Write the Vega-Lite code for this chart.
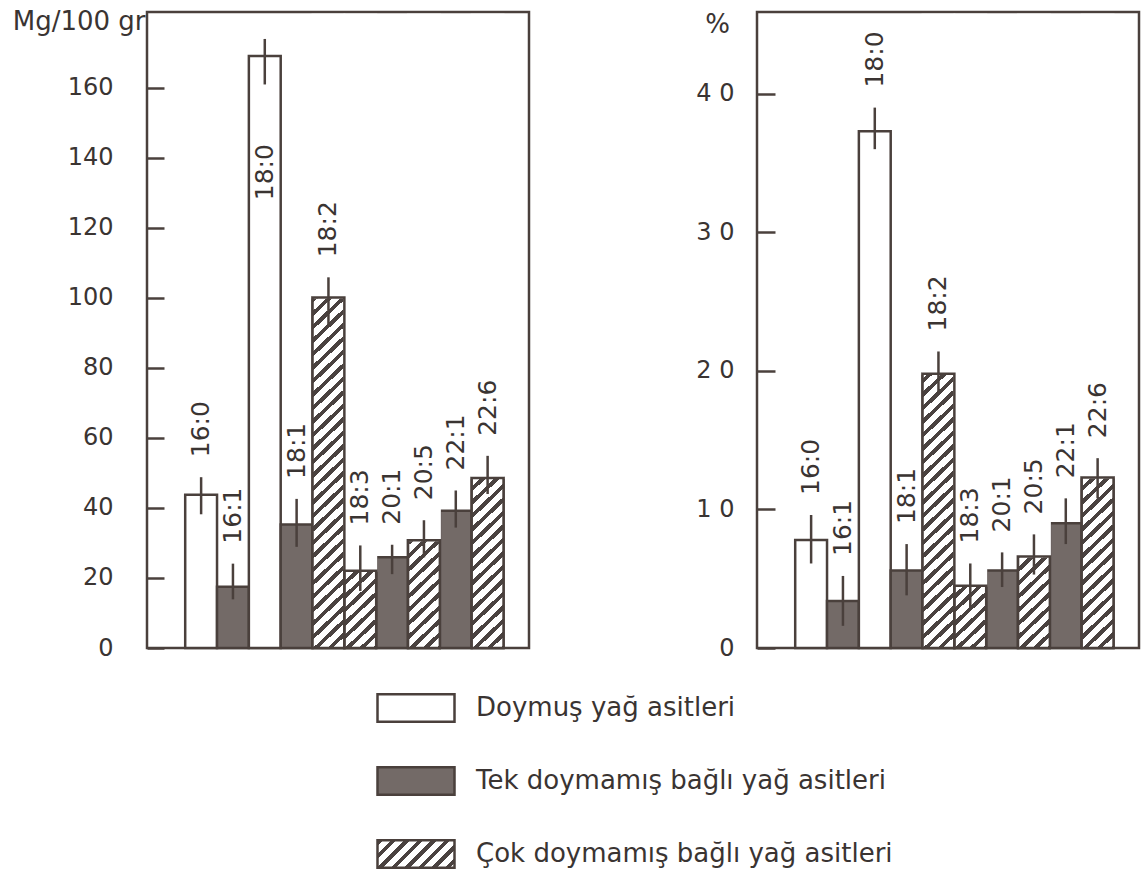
{
"$schema": "https://vega.github.io/schema/vega-lite/v6.json",
"padding": {"left": 10, "top": 6, "right": 5, "bottom": 5},
"background": "#ffffff",
"spacing": 228,
"bounds": "flush",
"resolve": {"scale": {"y": "independent"}},
"datasets": {
"mg": [
{"acid": "16:0", "type": "Doymuş yağ asitleri", "value": 43.8, "lo": 38.2, "hi": 48.8},
{"acid": "16:1", "type": "Tek doymamış bağlı yağ asitleri", "value": 17.5, "lo": 13.9, "hi": 24.1},
{"acid": "18:0", "type": "Doymuş yağ asitleri", "value": 169.1, "lo": 161.0, "hi": 174.0},
{"acid": "18:1", "type": "Tek doymamış bağlı yağ asitleri", "value": 35.3, "lo": 28.9, "hi": 42.6},
{"acid": "18:2", "type": "Çok doymamış bağlı yağ asitleri", "value": 100.1, "lo": 91.7, "hi": 105.9},
{"acid": "18:3", "type": "Çok doymamış bağlı yağ asitleri", "value": 22.1, "lo": 16.3, "hi": 29.3},
{"acid": "20:1", "type": "Tek doymamış bağlı yağ asitleri", "value": 25.9, "lo": 21.1, "hi": 29.5},
{"acid": "20:5", "type": "Çok doymamış bağlı yağ asitleri", "value": 30.8, "lo": 25.9, "hi": 36.5},
{"acid": "22:1", "type": "Tek doymamış bağlı yağ asitleri", "value": 39.2, "lo": 34.4, "hi": 45.0},
{"acid": "22:6", "type": "Çok doymamış bağlı yağ asitleri", "value": 48.6, "lo": 44.0, "hi": 54.9}
],
"pct": [
{"acid": "16:0", "type": "Doymuş yağ asitleri", "value": 7.8, "lo": 6.1, "hi": 9.6},
{"acid": "16:1", "type": "Tek doymamış bağlı yağ asitleri", "value": 3.4, "lo": 1.6, "hi": 5.2},
{"acid": "18:0", "type": "Doymuş yağ asitleri", "value": 37.3, "lo": 36.0, "hi": 39.0},
{"acid": "18:1", "type": "Tek doymamış bağlı yağ asitleri", "value": 5.6, "lo": 3.8, "hi": 7.5},
{"acid": "18:2", "type": "Çok doymamış bağlı yağ asitleri", "value": 19.8, "lo": 18.4, "hi": 21.4},
{"acid": "18:3", "type": "Çok doymamış bağlı yağ asitleri", "value": 4.5, "lo": 2.9, "hi": 6.1},
{"acid": "20:1", "type": "Tek doymamış bağlı yağ asitleri", "value": 5.6, "lo": 4.4, "hi": 6.9},
{"acid": "20:5", "type": "Çok doymamış bağlı yağ asitleri", "value": 6.6, "lo": 5.3, "hi": 8.2},
{"acid": "22:1", "type": "Tek doymamış bağlı yağ asitleri", "value": 9.0, "lo": 7.5, "hi": 10.8},
{"acid": "22:6", "type": "Çok doymamış bağlı yağ asitleri", "value": 12.3, "lo": 10.8, "hi": 13.7}
]
},
"hconcat": [
{
"width": 382, "height": 636,
"data": {"name": "mg"},
"layer": [
{"mark": {"type": "bar", "stroke": "#4a403c", "strokeWidth": 2.5},
 "encoding": {
  "x": {"field": "acid", "type": "nominal", "sort": null, "axis": null, "scale": {"domain": ["16:0","16:1","18:0","18:1","18:2","18:3","20:1","20:5","22:1","22:6"], "paddingInner": 0, "paddingOuter": 1.27, "align": 0.6}},
  "y": {"field": "value", "type": "quantitative", "scale": {"domain": [0, 181.7], "nice": false, "zero": true},
        "axis": {"values": [0, 20, 40, 60, 80, 100, 120, 140, 160], "title": "Mg/100 gr", "titleAngle": 0, "titleAlign": "right", "titleBaseline": "middle", "titleX": -2, "titleY": 9, "titleFontSize": 26, "titleFontWeight": "normal", "tickSize": -17, "labelPadding": 51}},
  "fill": {"field": "type", "type": "nominal",
   "scale": {"domain": ["Doymuş yağ asitleri", "Tek doymamış bağlı yağ asitleri", "Çok doymamış bağlı yağ asitleri"],
     "range": ["#ffffff", "#736a67", {"expr": "{gradient: 'linear', x1: 0, y1: 0, x2: 1.2419, y2: 0.4467, stops: [{offset: 0, color: '#4a4240'}, {offset: 0.05, color: '#4a4240'}, {offset: 0.05, color: '#fff'}, {offset: 0.125, color: '#fff'}, {offset: 0.125, color: '#4a4240'}, {offset: 0.175, color: '#4a4240'}, {offset: 0.175, color: '#fff'}, {offset: 0.25, color: '#fff'}, {offset: 0.25, color: '#4a4240'}, {offset: 0.3, color: '#4a4240'}, {offset: 0.3, color: '#fff'}, {offset: 0.375, color: '#fff'}, {offset: 0.375, color: '#4a4240'}, {offset: 0.425, color: '#4a4240'}, {offset: 0.425, color: '#fff'}, {offset: 0.5, color: '#fff'}, {offset: 0.5, color: '#4a4240'}, {offset: 0.55, color: '#4a4240'}, {offset: 0.55, color: '#fff'}, {offset: 0.625, color: '#fff'}, {offset: 0.625, color: '#4a4240'}, {offset: 0.675, color: '#4a4240'}, {offset: 0.675, color: '#fff'}, {offset: 0.75, color: '#fff'}, {offset: 0.75, color: '#4a4240'}, {offset: 0.8, color: '#4a4240'}, {offset: 0.8, color: '#fff'}, {offset: 0.875, color: '#fff'}, {offset: 0.875, color: '#4a4240'}, {offset: 0.925, color: '#4a4240'}, {offset: 0.925, color: '#fff'}, {offset: 1, color: '#fff'}]}"}]},
   "legend": {"title": null, "orient": "none", "legendX": 229, "legendY": 656, "direction": "vertical",
     "symbolType": "M-1,-0.36H1V0.36H-1Z", "symbolSize": 5929, "symbolStrokeWidth": 2.5, "symbolStrokeColor": "#4a403c", "symbolOpacity": 1,
     "labelFontSize": 26, "labelFont": "DejaVu Sans", "labelColor": "#3a3432", "labelOffset": 20, "rowPadding": 14, "labelLimit": 700,
     "encode": {"symbols": {"update": {"stroke": {"value": "#4a403c"}, "strokeWidth": {"value": 2.5}, "opacity": {"value": 1}}}}}}}},
{"transform": [{"filter": "datum.type === 'Çok doymamış bağlı yağ asitleri'"}],
 "mark": {"type": "rect"},
 "encoding": {
  "x": {"field": "acid", "type": "nominal", "sort": null, "axis": null, "scale": {"domain": ["16:0","16:1","18:0","18:1","18:2","18:3","20:1","20:5","22:1","22:6"], "paddingInner": 0, "paddingOuter": 1.27, "align": 0.6}},
  "y": {"datum": 0, "type": "quantitative", "scale": {"domain": [0, 181.7], "nice": false, "zero": true}},
  "y2": {"datum": 180.9}}},
{"transform": [{"filter": "datum.type === 'Çok doymamış bağlı yağ asitleri'"}],
 "mark": {"type": "rect", "fill": "#ffffff", "stroke": "#ffffff", "strokeWidth": 2},
 "encoding": {
  "x": {"field": "acid", "type": "nominal", "sort": null, "axis": null, "scale": {"domain": ["16:0","16:1","18:0","18:1","18:2","18:3","20:1","20:5","22:1","22:6"], "paddingInner": 0, "paddingOuter": 1.27, "align": 0.6}},
  "y": {"field": "value", "type": "quantitative", "scale": {"domain": [0, 181.7], "nice": false, "zero": true}},
  "y2": {"datum": 180.9}}},
{"transform": [{"filter": "datum.type === 'Çok doymamış bağlı yağ asitleri'"}],
 "mark": {"type": "bar", "fill": "transparent", "stroke": "#4a403c", "strokeWidth": 2.5},
 "encoding": {
  "x": {"field": "acid", "type": "nominal", "sort": null, "axis": null, "scale": {"domain": ["16:0","16:1","18:0","18:1","18:2","18:3","20:1","20:5","22:1","22:6"], "paddingInner": 0, "paddingOuter": 1.27, "align": 0.6}},
  "y": {"field": "value", "type": "quantitative", "scale": {"domain": [0, 181.7], "nice": false, "zero": true}}}},
{"mark": {"type": "rule", "strokeWidth": 2.5, "color": "#4a403c"},
 "encoding": {
  "x": {"field": "acid", "type": "nominal", "sort": null, "axis": null, "scale": {"domain": ["16:0","16:1","18:0","18:1","18:2","18:3","20:1","20:5","22:1","22:6"], "paddingInner": 0, "paddingOuter": 1.27, "align": 0.6}},
  "y": {"field": "lo", "type": "quantitative", "scale": {"domain": [0, 181.7], "nice": false, "zero": true}},
  "y2": {"field": "hi"}}},
{"transform": [{"filter": "datum.acid !== '18:0'"}],
 "mark": {"type": "text", "angle": 270, "align": "left", "baseline": "middle", "dx": 20, "fontSize": 25, "font": "DejaVu Sans", "color": "#3a3432"},
 "encoding": {
  "x": {"field": "acid", "type": "nominal", "sort": null, "axis": null, "scale": {"domain": ["16:0","16:1","18:0","18:1","18:2","18:3","20:1","20:5","22:1","22:6"], "paddingInner": 0, "paddingOuter": 1.27, "align": 0.6}},
  "y": {"field": "hi", "type": "quantitative", "scale": {"domain": [0, 181.7], "nice": false, "zero": true}},
  "text": {"field": "acid"}}},
{"transform": [{"filter": "datum.acid === '18:0'"}],
 "mark": {"type": "text", "angle": 270, "align": "right", "baseline": "middle", "dx": -88, "fontSize": 25, "font": "DejaVu Sans", "color": "#3a3432"},
 "encoding": {
  "x": {"field": "acid", "type": "nominal", "sort": null, "axis": null, "scale": {"domain": ["16:0","16:1","18:0","18:1","18:2","18:3","20:1","20:5","22:1","22:6"], "paddingInner": 0, "paddingOuter": 1.27, "align": 0.6}},
  "y": {"field": "value", "type": "quantitative", "scale": {"domain": [0, 181.7], "nice": false, "zero": true}},
  "text": {"field": "acid"}}}
]
},
{
"width": 382, "height": 636,
"data": {"name": "pct"},
"layer": [
{"mark": {"type": "bar", "stroke": "#4a403c", "strokeWidth": 2.5},
 "encoding": {
  "x": {"field": "acid", "type": "nominal", "sort": null, "axis": null, "scale": {"domain": ["16:0","16:1","18:0","18:1","18:2","18:3","20:1","20:5","22:1","22:6"], "paddingInner": 0, "paddingOuter": 1.27, "align": 0.6}},
  "y": {"field": "value", "type": "quantitative", "scale": {"domain": [0, 45.9], "nice": false, "zero": true},
        "axis": {"values": [0, 10, 20, 30, 40], "title": "%", "titleAngle": 0, "titleAlign": "center", "titleBaseline": "middle", "titleX": -40, "titleY": 12, "titleFontSize": 26, "titleFontWeight": "normal", "tickSize": -18, "labelPadding": 41, "labelExpr": "join(split(datum.label, ''), ' ')"}},
  "fill": {"field": "type", "type": "nominal", "legend": null}}},
{"transform": [{"filter": "datum.type === 'Çok doymamış bağlı yağ asitleri'"}],
 "mark": {"type": "rect"},
 "encoding": {
  "x": {"field": "acid", "type": "nominal", "sort": null, "axis": null, "scale": {"domain": ["16:0","16:1","18:0","18:1","18:2","18:3","20:1","20:5","22:1","22:6"], "paddingInner": 0, "paddingOuter": 1.27, "align": 0.6}},
  "y": {"datum": 0, "type": "quantitative", "scale": {"domain": [0, 45.9], "nice": false, "zero": true}},
  "y2": {"datum": 45.7}}},
{"transform": [{"filter": "datum.type === 'Çok doymamış bağlı yağ asitleri'"}],
 "mark": {"type": "rect", "fill": "#ffffff", "stroke": "#ffffff", "strokeWidth": 2},
 "encoding": {
  "x": {"field": "acid", "type": "nominal", "sort": null, "axis": null, "scale": {"domain": ["16:0","16:1","18:0","18:1","18:2","18:3","20:1","20:5","22:1","22:6"], "paddingInner": 0, "paddingOuter": 1.27, "align": 0.6}},
  "y": {"field": "value", "type": "quantitative", "scale": {"domain": [0, 45.9], "nice": false, "zero": true}},
  "y2": {"datum": 45.7}}},
{"transform": [{"filter": "datum.type === 'Çok doymamış bağlı yağ asitleri'"}],
 "mark": {"type": "bar", "fill": "transparent", "stroke": "#4a403c", "strokeWidth": 2.5},
 "encoding": {
  "x": {"field": "acid", "type": "nominal", "sort": null, "axis": null, "scale": {"domain": ["16:0","16:1","18:0","18:1","18:2","18:3","20:1","20:5","22:1","22:6"], "paddingInner": 0, "paddingOuter": 1.27, "align": 0.6}},
  "y": {"field": "value", "type": "quantitative", "scale": {"domain": [0, 45.9], "nice": false, "zero": true}}}},
{"mark": {"type": "rule", "strokeWidth": 2.5, "color": "#4a403c"},
 "encoding": {
  "x": {"field": "acid", "type": "nominal", "sort": null, "axis": null, "scale": {"domain": ["16:0","16:1","18:0","18:1","18:2","18:3","20:1","20:5","22:1","22:6"], "paddingInner": 0, "paddingOuter": 1.27, "align": 0.6}},
  "y": {"field": "lo", "type": "quantitative", "scale": {"domain": [0, 45.9], "nice": false, "zero": true}},
  "y2": {"field": "hi"}}},
{"mark": {"type": "text", "angle": 270, "align": "left", "baseline": "middle", "dx": 20, "fontSize": 25, "font": "DejaVu Sans", "color": "#3a3432"},
 "encoding": {
  "x": {"field": "acid", "type": "nominal", "sort": null, "axis": null, "scale": {"domain": ["16:0","16:1","18:0","18:1","18:2","18:3","20:1","20:5","22:1","22:6"], "paddingInner": 0, "paddingOuter": 1.27, "align": 0.6}},
  "y": {"field": "hi", "type": "quantitative", "scale": {"domain": [0, 45.9], "nice": false, "zero": true}},
  "text": {"field": "acid"}}}
]
}
],
"config": {
"view": {"stroke": "#4a403c", "strokeWidth": 2.5},
"font": "DejaVu Sans",
"axis": {"domain": false, "grid": false, "ticks": true, "tickColor": "#4a403c", "tickWidth": 2.5, "labelFont": "DejaVu Sans", "labelFontSize": 24, "labelColor": "#3a3432", "titleFont": "DejaVu Sans", "titleColor": "#3a3432", "labelFlush": false, "labelOverlap": false},
"rect": {"fill": {"gradient": "linear", "x1": 0, "y1": 0, "x2": 0.051, "y2": 1.0619, "stops": [
{"offset":0,"color":"#4a4240"},{"offset":0.008,"color":"#4a4240"},{"offset":0.008,"color":"#fff"},{"offset":0.02,"color":"#fff"},
{"offset":0.02,"color":"#4a4240"},{"offset":0.028,"color":"#4a4240"},{"offset":0.028,"color":"#fff"},{"offset":0.04,"color":"#fff"},
{"offset":0.04,"color":"#4a4240"},{"offset":0.048,"color":"#4a4240"},{"offset":0.048,"color":"#fff"},{"offset":0.06,"color":"#fff"},
{"offset":0.06,"color":"#4a4240"},{"offset":0.068,"color":"#4a4240"},{"offset":0.068,"color":"#fff"},{"offset":0.08,"color":"#fff"},
{"offset":0.08,"color":"#4a4240"},{"offset":0.088,"color":"#4a4240"},{"offset":0.088,"color":"#fff"},{"offset":0.1,"color":"#fff"},
{"offset":0.1,"color":"#4a4240"},{"offset":0.108,"color":"#4a4240"},{"offset":0.108,"color":"#fff"},{"offset":0.12,"color":"#fff"},
{"offset":0.12,"color":"#4a4240"},{"offset":0.128,"color":"#4a4240"},{"offset":0.128,"color":"#fff"},{"offset":0.14,"color":"#fff"},
{"offset":0.14,"color":"#4a4240"},{"offset":0.148,"color":"#4a4240"},{"offset":0.148,"color":"#fff"},{"offset":0.16,"color":"#fff"},
{"offset":0.16,"color":"#4a4240"},{"offset":0.168,"color":"#4a4240"},{"offset":0.168,"color":"#fff"},{"offset":0.18,"color":"#fff"},
{"offset":0.18,"color":"#4a4240"},{"offset":0.188,"color":"#4a4240"},{"offset":0.188,"color":"#fff"},{"offset":0.2,"color":"#fff"},
{"offset":0.2,"color":"#4a4240"},{"offset":0.208,"color":"#4a4240"},{"offset":0.208,"color":"#fff"},{"offset":0.22,"color":"#fff"},
{"offset":0.22,"color":"#4a4240"},{"offset":0.228,"color":"#4a4240"},{"offset":0.228,"color":"#fff"},{"offset":0.24,"color":"#fff"},
{"offset":0.24,"color":"#4a4240"},{"offset":0.248,"color":"#4a4240"},{"offset":0.248,"color":"#fff"},{"offset":0.26,"color":"#fff"},
{"offset":0.26,"color":"#4a4240"},{"offset":0.268,"color":"#4a4240"},{"offset":0.268,"color":"#fff"},{"offset":0.28,"color":"#fff"},
{"offset":0.28,"color":"#4a4240"},{"offset":0.288,"color":"#4a4240"},{"offset":0.288,"color":"#fff"},{"offset":0.3,"color":"#fff"},
{"offset":0.3,"color":"#4a4240"},{"offset":0.308,"color":"#4a4240"},{"offset":0.308,"color":"#fff"},{"offset":0.32,"color":"#fff"},
{"offset":0.32,"color":"#4a4240"},{"offset":0.328,"color":"#4a4240"},{"offset":0.328,"color":"#fff"},{"offset":0.34,"color":"#fff"},
{"offset":0.34,"color":"#4a4240"},{"offset":0.348,"color":"#4a4240"},{"offset":0.348,"color":"#fff"},{"offset":0.36,"color":"#fff"},
{"offset":0.36,"color":"#4a4240"},{"offset":0.368,"color":"#4a4240"},{"offset":0.368,"color":"#fff"},{"offset":0.38,"color":"#fff"},
{"offset":0.38,"color":"#4a4240"},{"offset":0.388,"color":"#4a4240"},{"offset":0.388,"color":"#fff"},{"offset":0.4,"color":"#fff"},
{"offset":0.4,"color":"#4a4240"},{"offset":0.408,"color":"#4a4240"},{"offset":0.408,"color":"#fff"},{"offset":0.42,"color":"#fff"},
{"offset":0.42,"color":"#4a4240"},{"offset":0.428,"color":"#4a4240"},{"offset":0.428,"color":"#fff"},{"offset":0.44,"color":"#fff"},
{"offset":0.44,"color":"#4a4240"},{"offset":0.448,"color":"#4a4240"},{"offset":0.448,"color":"#fff"},{"offset":0.46,"color":"#fff"},
{"offset":0.46,"color":"#4a4240"},{"offset":0.468,"color":"#4a4240"},{"offset":0.468,"color":"#fff"},{"offset":0.48,"color":"#fff"},
{"offset":0.48,"color":"#4a4240"},{"offset":0.488,"color":"#4a4240"},{"offset":0.488,"color":"#fff"},{"offset":0.5,"color":"#fff"},
{"offset":0.5,"color":"#4a4240"},{"offset":0.508,"color":"#4a4240"},{"offset":0.508,"color":"#fff"},{"offset":0.52,"color":"#fff"},
{"offset":0.52,"color":"#4a4240"},{"offset":0.528,"color":"#4a4240"},{"offset":0.528,"color":"#fff"},{"offset":0.54,"color":"#fff"},
{"offset":0.54,"color":"#4a4240"},{"offset":0.548,"color":"#4a4240"},{"offset":0.548,"color":"#fff"},{"offset":0.56,"color":"#fff"},
{"offset":0.56,"color":"#4a4240"},{"offset":0.568,"color":"#4a4240"},{"offset":0.568,"color":"#fff"},{"offset":0.58,"color":"#fff"},
{"offset":0.58,"color":"#4a4240"},{"offset":0.588,"color":"#4a4240"},{"offset":0.588,"color":"#fff"},{"offset":0.6,"color":"#fff"},
{"offset":0.6,"color":"#4a4240"},{"offset":0.608,"color":"#4a4240"},{"offset":0.608,"color":"#fff"},{"offset":0.62,"color":"#fff"},
{"offset":0.62,"color":"#4a4240"},{"offset":0.628,"color":"#4a4240"},{"offset":0.628,"color":"#fff"},{"offset":0.64,"color":"#fff"},
{"offset":0.64,"color":"#4a4240"},{"offset":0.648,"color":"#4a4240"},{"offset":0.648,"color":"#fff"},{"offset":0.66,"color":"#fff"},
{"offset":0.66,"color":"#4a4240"},{"offset":0.668,"color":"#4a4240"},{"offset":0.668,"color":"#fff"},{"offset":0.68,"color":"#fff"},
{"offset":0.68,"color":"#4a4240"},{"offset":0.688,"color":"#4a4240"},{"offset":0.688,"color":"#fff"},{"offset":0.7,"color":"#fff"},
{"offset":0.7,"color":"#4a4240"},{"offset":0.708,"color":"#4a4240"},{"offset":0.708,"color":"#fff"},{"offset":0.72,"color":"#fff"},
{"offset":0.72,"color":"#4a4240"},{"offset":0.728,"color":"#4a4240"},{"offset":0.728,"color":"#fff"},{"offset":0.74,"color":"#fff"},
{"offset":0.74,"color":"#4a4240"},{"offset":0.748,"color":"#4a4240"},{"offset":0.748,"color":"#fff"},{"offset":0.76,"color":"#fff"},
{"offset":0.76,"color":"#4a4240"},{"offset":0.768,"color":"#4a4240"},{"offset":0.768,"color":"#fff"},{"offset":0.78,"color":"#fff"},
{"offset":0.78,"color":"#4a4240"},{"offset":0.788,"color":"#4a4240"},{"offset":0.788,"color":"#fff"},{"offset":0.8,"color":"#fff"},
{"offset":0.8,"color":"#4a4240"},{"offset":0.808,"color":"#4a4240"},{"offset":0.808,"color":"#fff"},{"offset":0.82,"color":"#fff"},
{"offset":0.82,"color":"#4a4240"},{"offset":0.828,"color":"#4a4240"},{"offset":0.828,"color":"#fff"},{"offset":0.84,"color":"#fff"},
{"offset":0.84,"color":"#4a4240"},{"offset":0.848,"color":"#4a4240"},{"offset":0.848,"color":"#fff"},{"offset":0.86,"color":"#fff"},
{"offset":0.86,"color":"#4a4240"},{"offset":0.868,"color":"#4a4240"},{"offset":0.868,"color":"#fff"},{"offset":0.88,"color":"#fff"},
{"offset":0.88,"color":"#4a4240"},{"offset":0.888,"color":"#4a4240"},{"offset":0.888,"color":"#fff"},{"offset":0.9,"color":"#fff"},
{"offset":0.9,"color":"#4a4240"},{"offset":0.908,"color":"#4a4240"},{"offset":0.908,"color":"#fff"},{"offset":0.92,"color":"#fff"},
{"offset":0.92,"color":"#4a4240"},{"offset":0.928,"color":"#4a4240"},{"offset":0.928,"color":"#fff"},{"offset":0.94,"color":"#fff"},
{"offset":0.94,"color":"#4a4240"},{"offset":0.948,"color":"#4a4240"},{"offset":0.948,"color":"#fff"},{"offset":0.96,"color":"#fff"},
{"offset":0.96,"color":"#4a4240"},{"offset":0.968,"color":"#4a4240"},{"offset":0.968,"color":"#fff"},{"offset":0.98,"color":"#fff"},
{"offset":0.98,"color":"#4a4240"},{"offset":0.988,"color":"#4a4240"},{"offset":0.988,"color":"#fff"},{"offset":1,"color":"#fff"}
]}}
}
}
